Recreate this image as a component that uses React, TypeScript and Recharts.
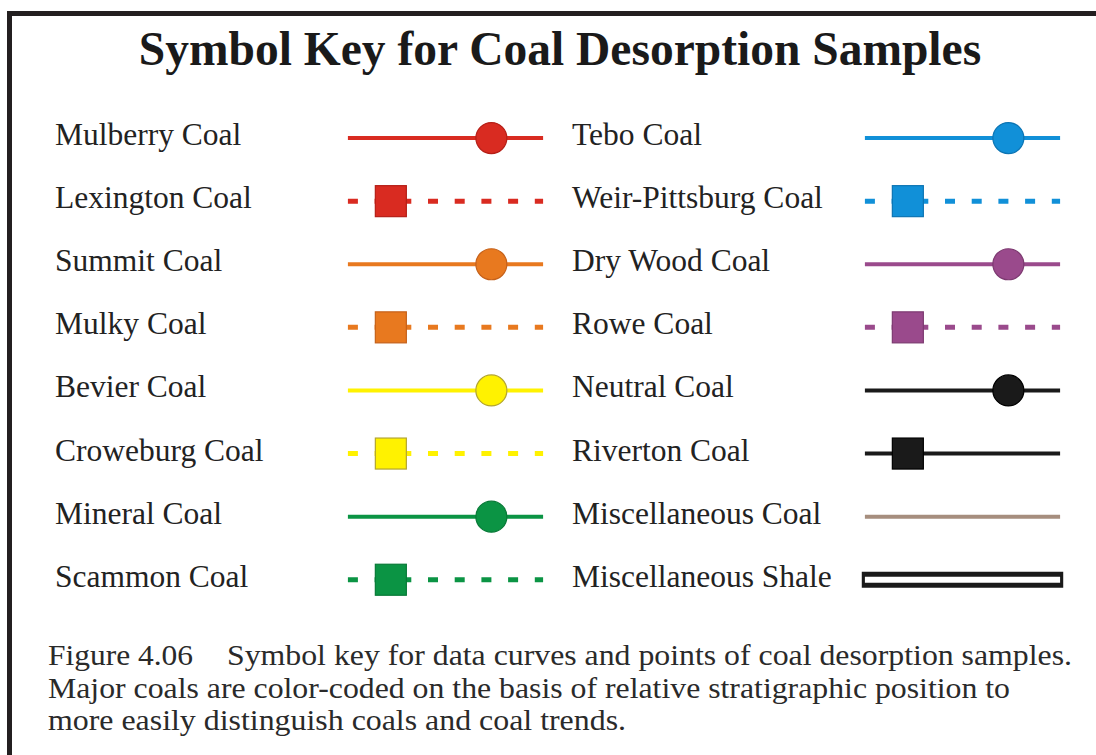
import { LineChart, Line, XAxis, YAxis } from 'recharts';

// left column of the key
const leftNames = ['Mulberry Coal', 'Lexington Coal', 'Summit Coal', 'Mulky Coal', 'Bevier Coal', 'Croweburg Coal', 'Mineral Coal', 'Scammon Coal'];
const leftColors = ['#d92b21', '#d92b21', '#e8791f', '#e8791f', '#fff200', '#fff200', '#0b9444', '#0b9444'];
const leftEdges = ['#b51f17', '#b51f17', '#c5611a', '#c5611a', '#b3a530', '#b3a530', '#087a37', '#087a37'];
const leftDashed = [false, true, false, true, false, true, false, true];
const leftMarkers = ['circle', 'square', 'circle', 'square', 'circle', 'square', 'circle', 'square'];

// right column of the key
const rightNames = ['Tebo Coal', 'Weir-Pittsburg Coal', 'Dry Wood Coal', 'Rowe Coal', 'Neutral Coal', 'Riverton Coal', 'Miscellaneous Coal', 'Miscellaneous Shale'];
const rightColors = ['#1190d8', '#1190d8', '#9a4a8c', '#9a4a8c', '#1a1a1a', '#1a1a1a', '#a68e7e', '#1a1a1a'];
const rightEdges = ['#0c74b3', '#0c74b3', '#7d3a71', '#7d3a71', '#000000', '#000000', '#a68e7e', '#1a1a1a'];
const rightDashed = [false, true, false, true, false, false, false, false];
const rightMarkers = ['circle', 'square', 'circle', 'square', 'circle', 'square', 'none', 'shale'];

const rows = [0, 1, 2, 3, 4, 5, 6, 7];
// where the symbol sits along each sample segment (0 = start, 1 = end)
const markerAt: Record<string, number> = { circle: 0.735, square: 0.22 };

const caption = [
  'Figure 4.06',
  'Symbol key for data curves and points of coal desorption samples.',
  'Major coals are color-coded on the basis of relative stratigraphic position to',
  'more easily distinguish coals and coal trends.',
];

const segment = (row: number, marker: string) => {
  if (marker === 'circle' || marker === 'square') {
    return [
      { x: 0, y: row },
      { x: markerAt[marker], y: row, m: true },
      { x: 1, y: row },
    ];
  }
  return [
    { x: 0, y: row },
    { x: 1, y: row },
  ];
};

const makeDot = (marker: string, fill: string, edge: string) => (p: any) => {
  if (!p.payload || !p.payload.m) return <g key={`d${p.index}`} />;
  if (marker === 'circle') {
    return <circle key={`d${p.index}`} cx={p.cx} cy={p.cy} r={15.5} fill={fill} stroke={edge} strokeWidth={1.2} />;
  }
  return <rect key={`d${p.index}`} x={p.cx - 15.5} y={p.cy - 15.5} width={31} height={31} fill={fill} stroke={edge} strokeWidth={1.2} />;
};

const KeyColumn = ({ names, colors, edges, dashed, markers, labelX, width, axisWidth }: any) => (
  <LineChart width={width} height={755} margin={{ top: 106.5, bottom: 143.7, left: 0, right: width - axisWidth - 203 }}>
    <XAxis type="number" dataKey="x" domain={[-0.02, 1.02]} hide allowDataOverflow />
    <YAxis
      type="number"
      dataKey="y"
      domain={[-0.5, 7.5]}
      reversed
      ticks={rows}
      interval={0}
      width={axisWidth}
      axisLine={false}
      tickLine={false}
      tick={(p: any) => (
        <text key={`t${p.index}`} x={labelX} y={p.y} dy={7} textAnchor="start" fontFamily="'Liberation Serif', serif" fontSize={31.5} fill="#222">
          {names[p.payload.value]}
        </text>
      )}
    />
    {rows.map((r) => {
      const marker = markers[r];
      if (marker === 'shale') {
        return [
          <Line key={`so${r}`} data={[{ x: -0.016, y: r }, { x: 1.016, y: r }]} dataKey="y" stroke={colors[r]} strokeWidth={16} dot={false} activeDot={false} isAnimationActive={false} />,
          <Line key={`si${r}`} data={segment(r, 'none')} dataKey="y" stroke="#ffffff" strokeWidth={6} dot={false} activeDot={false} isAnimationActive={false} />,
        ];
      }
      return (
        <Line
          key={`l${r}`}
          data={segment(r, marker)}
          dataKey="y"
          stroke={colors[r]}
          strokeWidth={dashed[r] ? 5 : 4}
          strokeDasharray={dashed[r] ? '10 16.7' : undefined}
          dot={marker === 'none' ? false : makeDot(marker, colors[r], edges[r])}
          activeDot={false}
          isAnimationActive={false}
        />
      );
    })}
  </LineChart>
);

export default function App() {
  return (
    <div style={{ position: 'absolute', left: 0, top: 0, width: 1096, height: 755, background: '#fff', overflow: 'hidden' }}>
      <svg width={1096} height={755} style={{ position: 'absolute', left: 0, top: 0 }}>
        <path d="M9.5 755 L9.5 13.5 L1096 13.5" fill="none" stroke="#231f20" strokeWidth={5} />
        <text x={560} y={65} textAnchor="middle" fontFamily="'Liberation Serif', serif" fontWeight="bold" fontSize={47.5} fill="#1a1a1a">
          Symbol Key for Coal Desorption Samples
        </text>
        <g fontFamily="'Liberation Serif', serif" fontSize={28.5} fill="#2a2a2a">
          <text x={48} y={665} textLength={145} lengthAdjust="spacingAndGlyphs">{caption[0]}</text>
          <text x={227} y={665} textLength={845} lengthAdjust="spacingAndGlyphs">{caption[1]}</text>
          <text x={48} y={698} textLength={962} lengthAdjust="spacingAndGlyphs">{caption[2]}</text>
          <text x={48} y={730} textLength={578} lengthAdjust="spacingAndGlyphs">{caption[3]}</text>
        </g>
      </svg>
      <div style={{ position: 'absolute', left: 0, top: 0 }}>
        <KeyColumn names={leftNames} colors={leftColors} edges={leftEdges} dashed={leftDashed} markers={leftMarkers} labelX={55} width={560} axisWidth={344} />
      </div>
      <div style={{ position: 'absolute', left: 560, top: 0 }}>
        <KeyColumn names={rightNames} colors={rightColors} edges={rightEdges} dashed={rightDashed} markers={rightMarkers} labelX={12} width={536} axisWidth={301} />
      </div>
    </div>
  );
}
